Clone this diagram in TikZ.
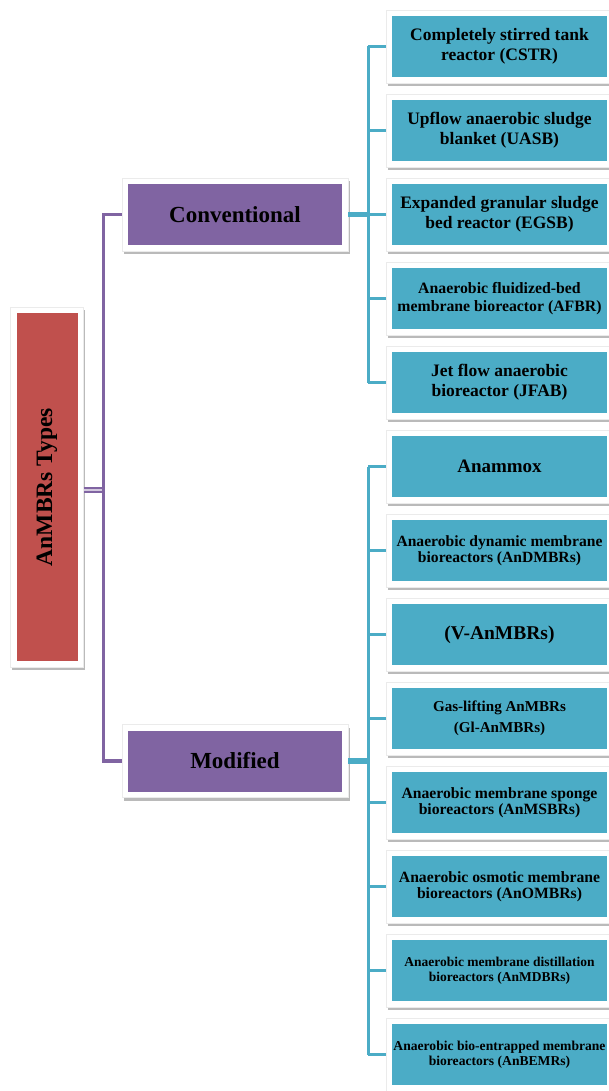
\documentclass[tikz,border=0pt]{standalone}
\usepackage{fontspec}
\setmainfont{Liberation Serif}
\usetikzlibrary{shadows}
\definecolor{cred}{HTML}{C0504D}
\definecolor{cpur}{HTML}{8064A2}
\definecolor{ctea}{HTML}{4BACC6}
\newcommand\fsz[2]{\fontsize{#1}{#2}\selectfont}
\tikzset{
  frame/.style={fill=white, draw=black!8, line width=0.4pt,
    drop shadow={shadow xshift=1.5pt, shadow yshift=-3pt, opacity=0.45, fill=black!60},
    inner sep=0pt, align=center},
  inbox/.style={path picture={\fill[#1] ([shift={(6pt,-6pt)}]path picture bounding box.north west) rectangle ([shift={(-6pt,6pt)}]path picture bounding box.south east);}},
  tbox/.style={frame, inbox=ctea, minimum width=227pt, minimum height=73pt},
  pbox/.style={frame, inbox=cpur, minimum width=226pt, minimum height=73pt, font=\bfseries\fsz{23}{27}},
  pline/.style={draw=cpur, line width=3.5pt},
  pdouble/.style={draw=cpur, line width=2pt, double=cpur!35, double distance=2.5pt},
  tline/.style={draw=ctea, line width=3pt},
  tthick/.style={draw=ctea, line width=5.5pt},
}
\begin{document}
\begin{tikzpicture}[x=1pt,y=-1pt]
\useasboundingbox (0,0) rectangle (609,1091);

\node[frame, inbox=cred, minimum width=73pt, minimum height=360pt, font=\bfseries\fsz{23.5}{28}] (root) at (47,487) {\rotatebox{90}{AnMBRs Types}};
\node[pbox] (conv) at (235,214.5) {Conventional};
\node[pbox] (mod) at (235,761) {Modified};

\node[tbox, font=\bfseries\fsz{17.5}{20}] (b1) at (499.5,46.5) {Completely stirred tank\\reactor (CSTR)};
\node[tbox, font=\bfseries\fsz{17.5}{20}] (b2) at (499.5,130.5) {Upflow anaerobic sludge\\blanket (UASB)};
\node[tbox, font=\bfseries\fsz{17.5}{20}] (b3) at (499.5,214.5) {Expanded granular sludge\\bed reactor (EGSB)};
\node[tbox, font=\bfseries\fsz{15.8}{18}] (b4) at (499.5,298.5) {Anaerobic fluidized-bed\\membrane bioreactor (AFBR)};
\node[tbox, font=\bfseries\fsz{17.5}{20}] (b5) at (499.5,382.5) {Jet flow anaerobic\\bioreactor (JFAB)};
\node[tbox, font=\bfseries\fsz{19}{22}] (b6) at (499.5,466.5) {Anammox};
\node[tbox, font=\bfseries\fsz{15.6}{16.5}] (b7) at (499.5,550.5) {Anaerobic dynamic membrane\\bioreactors (AnDMBRs)};
\node[tbox, font=\bfseries\fsz{19.5}{22}] (b8) at (499.5,634.5) {\raisebox{-9pt}{(V-AnMBRs)}};
\node[tbox, font=\bfseries\fsz{15.1}{21}] (b9) at (499.5,718.5) {Gas-lifting AnMBRs\\(Gl-AnMBRs)};
\node[tbox, font=\bfseries\fsz{15.7}{16.5}] (b10) at (499.5,802.5) {Anaerobic membrane sponge\\bioreactors (AnMSBRs)};
\node[tbox, font=\bfseries\fsz{15.7}{16.5}] (b11) at (499.5,886.5) {Anaerobic osmotic membrane\\bioreactors (AnOMBRs)};
\node[tbox, font=\bfseries\fsz{13.5}{14.5}] (b12) at (499.5,970.5) {Anaerobic membrane distillation\\bioreactors (AnMDBRs)};
\node[tbox, font=\bfseries\fsz{13.6}{14.5}] (b13) at (499.5,1054.5) {Anaerobic bio-entrapped membrane\\bioreactors (AnBEMRs)};

\coordinate (pv) at (103.5,490);
\coordinate (tv) at (368,0);

\draw[pdouble] (root.east |- pv) -- (pv);
\draw[pline] (conv.west) -| (pv) |- (mod.west);

\draw[tthick] (conv.east) -- (conv.east -| tv);
\draw[tline] (b1.west -| tv) -- (b5.west -| tv);
\foreach \i in {1,...,5} { \draw[tline] (b\i.west -| tv) -- (b\i.west); }

\draw[tthick] (mod.east) -- (mod.east -| tv);
\draw[tline] (b6.west -| tv) -- (b13.west -| tv);
\foreach \i in {6,...,13} { \draw[tline] (b\i.west -| tv) -- (b\i.west); }
\end{tikzpicture}
\end{document}
